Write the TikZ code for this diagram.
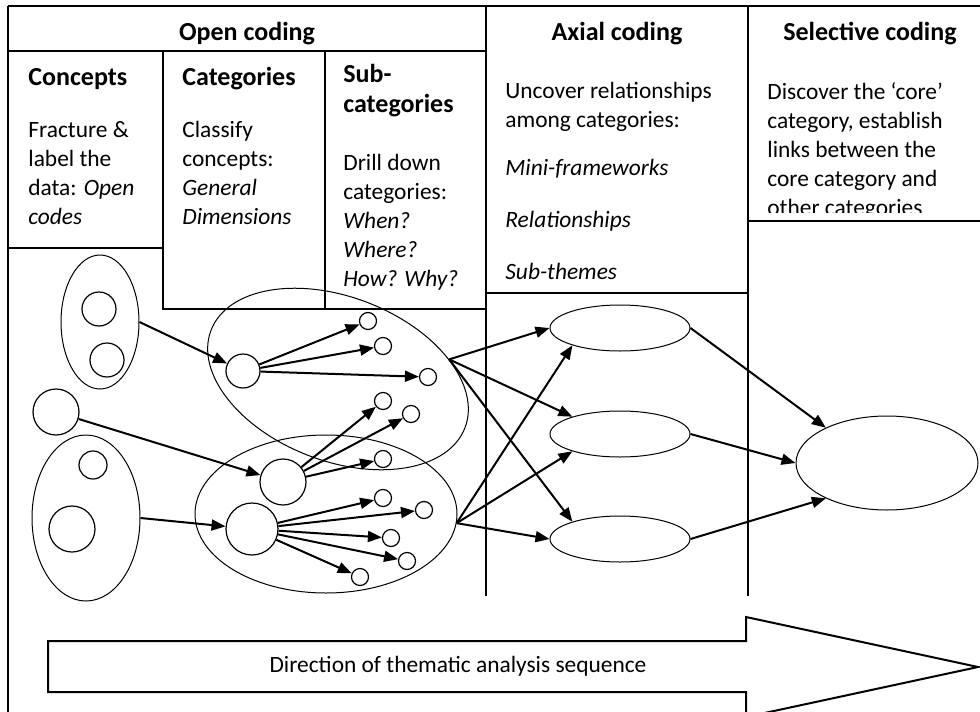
\documentclass[tikz,border=0pt]{standalone}
\usepackage{fontspec}
\setmainfont{Carlito}
\usetikzlibrary{arrows.meta,shapes.geometric}

\begin{document}
\begin{tikzpicture}[x=0.5pt, y=-0.5pt,
        frame/.style={line width=0.6pt},
        code/.style={circle, draw, line width=0.6pt, inner sep=0pt, minimum size=#1},
        group/.style={ellipse, draw, line width=0.5pt, inner sep=0pt},
        arrow/.style={-{Triangle[length=7pt, width=5.5pt]}, line width=1pt},
        head/.style={anchor=base, inner sep=0pt, font=\fontsize{13}{15}\selectfont\bfseries},
        colhead/.style={anchor=north west, align=left, inner sep=0pt, font=\fontsize{13}{15}\selectfont\bfseries, execute at begin node=\strut},
        body/.style={anchor=north west, align=left, inner sep=0pt, font=\fontsize{11.7}{14.5}\selectfont, execute at begin node=\strut}
    ]
        \useasboundingbox (0,0) rectangle (980,712);
        \clip (0,0) rectangle (980,712);

        % table
        \draw[line width=1pt] (8,6) -- (980,6);
        \draw[frame] (8,6) -- (8,712);
        \draw[frame] (8,51) -- (486,51);
        \draw[frame] (8,248) -- (163,248);
        \draw[frame] (163,51) -- (163,309) -- (486,309);
        \draw[frame] (325,51) -- (325,309);
        \draw[frame] (486,6) -- (486,596);
        \draw[frame] (748,6) -- (748,596);
        \draw[frame] (486,293) -- (748,293);
        \draw[frame] (748,221) -- (980,221);

        % headings
        \node[head] (open) at (247,40) {Open coding};
        \node[head] (axial) at (617,40) {Axial coding};
        \node[head] (selective) at (870,40) {Selective coding};

        \node[colhead] (concepts) at (28,64) {Concepts};
        \node[body] (conceptstxt) at (28,121) {Fracture \&\\label the\\data: \textit{Open}\\\textit{codes}};
        \node[colhead] (categories) at (182,64) {Categories};
        \node[body] (categoriestxt) at (182,121) {Classify\\concepts:\\\textit{General}\\\textit{Dimensions}};
        \node[colhead] (subcat) at (343,64) {Sub-\\categories};
        \node[body] (subcattxt) at (343,154) {Drill down\\categories:\\\textit{When?}\\\textit{Where?}\\\textit{How? Why?}};
        \node[body] (axialtxt) at (505,82) {Uncover relationships\\among categories:\\[9.5pt]
            \textit{Mini-frameworks}\\[11.5pt]\textit{Relationships}\\[11.5pt]\textit{Sub-themes}};
        \begin{scope}
            \clip (748,60) rectangle (980,212);
            \node[body] (selectivetxt) at (767,82) {Discover the ‘core’\\category, establish\\links between the\\core category and\\other categories};
        \end{scope}

        % open codes
        \node[group, minimum width=39pt, minimum height=67pt] (grpA) at (100,322) {};
        \node[code=17pt] (codeA1) at (99,309) {};
        \node[code=17pt] (codeA2) at (107,360) {};
        \node[code=23pt] (codeL) at (56,412) {};
        \node[group, minimum width=54pt, minimum height=83pt] (grpB) at (86,518) {};
        \node[code=14pt] (codeB1) at (93,465) {};
        \node[code=23pt] (codeB2) at (72,529) {};

        % categories
        \node[group, minimum width=136pt, minimum height=82pt, rotate=-21] (grpC) at (338,379) {};
        \node[group, minimum width=131pt, minimum height=79pt] (grpD) at (326,514) {};
        \node[code=17pt] (cat1) at (243,371) {};
        \node[code=23pt] (cat2) at (283,482) {};
        \node[code=26pt] (cat3) at (252,529) {};

        % sub-categories
        \node[code=8.5pt] (sub1) at (368,321) {};
        \node[code=8.5pt] (sub2) at (383,346) {};
        \node[code=8.5pt] (sub3) at (428,377) {};
        \node[code=8.5pt] (sub4) at (383,401) {};
        \node[code=8.5pt] (sub5) at (411,414) {};
        \node[code=8.5pt] (sub6) at (383,459) {};
        \node[code=8.5pt] (sub7) at (383,498) {};
        \node[code=8.5pt] (sub8) at (424,510) {};
        \node[code=8.5pt] (sub9) at (391,538) {};
        \node[code=8.5pt] (sub10) at (407,561) {};
        \node[code=8.5pt] (sub11) at (360,577) {};

        % axial and core
        \node[group, minimum width=70pt, minimum height=23pt] (theme1) at (620,328) {};
        \node[group, minimum width=70pt, minimum height=23pt] (theme2) at (620,434) {};
        \node[group, minimum width=70pt, minimum height=23pt] (theme3) at (620,539) {};
        \node[group, minimum width=91pt, minimum height=47pt] (core) at (887,463) {};

        \draw[arrow] (grpA.east) -- (cat1);
        \draw[arrow] (codeL) -- (cat2);
        \draw[arrow] (grpB.east) -- (cat3);
        \foreach \s in {sub1,sub2,sub3} \draw[arrow] (cat1) -- (\s);
        \foreach \s in {sub4,sub5,sub6} \draw[arrow] (cat2) -- (\s);
        \foreach \s in {sub7,sub8,sub9,sub10,sub11} \draw[arrow] (cat3) -- (\s);

        \draw[arrow] (grpC.31) -- (theme1.west);
        \draw[arrow] (grpC.31) -- (theme2.160);
        \draw[arrow] (grpC.31) -- (theme3.160);
        \draw[arrow] (grpD.-4) -- (theme1.200);
        \draw[arrow] (grpD.-4) -- (theme2.200);
        \draw[arrow] (grpD.-4) -- (theme3.west);
        \draw[arrow] (theme1.east) -- (core.150);
        \draw[arrow] (theme2.east) -- (core.west);
        \draw[arrow] (theme3.east) -- (core.210);

        % direction arrow
        \draw[line width=1pt] (48,641) -- (746,641) -- (746,617) -- (978,667)
            -- (746,717) -- (746,692) -- (48,692) -- cycle;
        \node[inner sep=0pt, font=\fontsize{11.7}{14.5}\selectfont] (direction) at (458,666) {Direction of thematic analysis sequence};
    \end{tikzpicture}
\end{document}
